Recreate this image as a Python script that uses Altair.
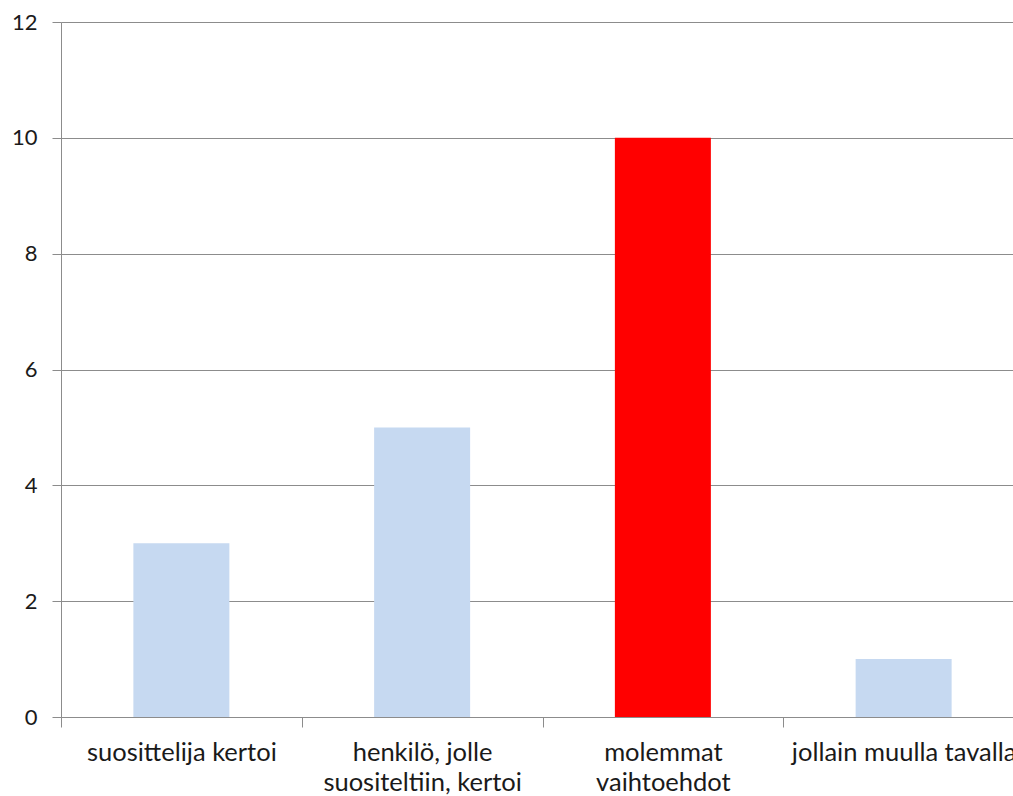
import altair as alt
import pandas as pd

# Survey answers: who told about the recommendation
categories = [
    "suosittelija kertoi",
    "henkilö, jolle suositeltiin, kertoi",
    "molemmat vaihtoehdot",
    "jollain muulla tavalla",
]
counts = [3, 5, 10, 1]
colors = ["#C6D9F1", "#C6D9F1", "#FF0000", "#C6D9F1"]
y_ticks = [0, 2, 4, 6, 8, 10, 12]

df = pd.DataFrame({"kategoria": categories, "lkm": counts, "vari": colors})

# Two-line axis labels
label_expr = (
    "datum.value == 'henkilö, jolle suositeltiin, kertoi' ? ['henkilö, jolle', 'suositeltiin, kertoi'] : "
    "datum.value == 'molemmat vaihtoehdot' ? ['molemmat', 'vaihtoehdot'] : datum.value"
)

FONT = "Lato"
GRID = "#8C8C8C"
TEXT = "#1A1A1A"

chart = (
    alt.Chart(df)
    .mark_bar(size=96)
    .encode(
        x=alt.X(
            "kategoria:N",
            sort=categories,
            scale=alt.Scale(range=[0, 963], paddingInner=0, paddingOuter=0),
            axis=alt.Axis(
                title=None,
                labelAngle=0,
                labelExpr=label_expr,
                labelFont=FONT,
                labelFontSize=25.5,
                labelColor=TEXT,
                labelPadding=13,
                labelLineHeight=30,
                labelLimit=0,
                labelOverlap=False,
                tickBand="extent",
                tickColor=GRID,
                tickSize=10,
                domainColor=GRID,
                grid=False,
            ),
        ),
        y=alt.Y(
            "lkm:Q",
            scale=alt.Scale(domain=[0, 12], nice=False),
            axis=alt.Axis(
                title=None,
                values=y_ticks,
                labelFont=FONT,
                labelFontSize=22,
                labelColor=TEXT,
                labelPadding=15,
                tickColor=GRID,
                tickSize=9,
                domainColor=GRID,
                gridColor=GRID,
                gridOpacity=1,
            ),
        ),
        color=alt.Color("vari:N", scale=None, legend=None),
    )
    .properties(
        width=952,
        height=695,
        autosize=alt.AutoSizeParams(type="none"),
        padding={"left": 61, "top": 22, "right": 0, "bottom": 79},
    )
    .configure_view(stroke=None)
    .configure(background="white")
)

chart.save("out.html", embed_options={"renderer": "svg", "actions": False})
